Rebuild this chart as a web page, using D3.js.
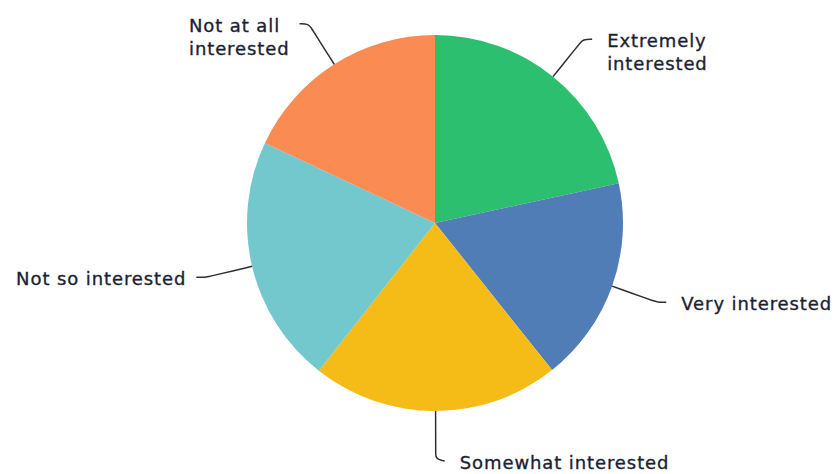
<!DOCTYPE html>
<html>
<head>
<meta charset="utf-8">
<script src="https://cdn.jsdelivr.net/npm/d3@7"></script>
<style>
  html, body { margin: 0; padding: 0; background: #ffffff; }
  svg { display: block; }
</style>
</head>
<body>
<svg id="chart" width="834" height="474"></svg>
<script>
// ---- data ----
const categories = ["Extremely interested", "Very interested", "Somewhat interested", "Not so interested", "Not at all interested"];
const labelLines = [["Extremely", "interested"], ["Very interested"], ["Somewhat interested"], ["Not so interested"], ["Not at all", "interested"]];
const values = [21.6, 17.7, 21.3, 21.4, 18.0];
const colors = ["#2bbf6f", "#517db6", "#f5bb17", "#72c8cc", "#f98b53"];

// ---- layout ----
const W = 834, H = 474;
const cx = 435, cy = 223, R = 188;
const leaderOut = 48, hookLen = 9, gapR = 15, gapL = 10;
const fontSize = 18, lineH = 23;

const svg = d3.select("#chart");
const g = svg.append("g").attr("transform", `translate(${cx},${cy})`);

const pie = d3.pie().sort(null).value(d => d)(values);
const arc = d3.arc().innerRadius(0).outerRadius(R);

g.selectAll("path.slice")
  .data(pie)
  .join("path")
  .attr("class", "slice")
  .attr("d", arc)
  .attr("fill", (d, i) => colors[i])
  .attr("stroke", "none");

const pt = (a, r) => [Math.sin(a) * r, -Math.cos(a) * r];
const line = d3.line().curve(d3.curveBasis);

pie.forEach((d, i) => {
  const a = (d.startAngle + d.endAngle) / 2;
  const p1 = pt(a, R);
  const p2 = pt(a, R + leaderOut);
  const right = Math.sin(a) > -0.02;
  const dir = right ? 1 : -1;
  const pm = pt(a, R + leaderOut - 6);
  const p3 = [p2[0] + dir * hookLen, p2[1] + (Math.abs(Math.cos(a)) > 0.9 ? 2 : 0)];
  const pts = [p1, pm, pm, p2, p3];
  g.append("path")
    .attr("d", line(pts))
    .attr("fill", "none")
    .attr("stroke", "#2f3030")
    .attr("stroke-width", 1.5);

  const t = g.append("text")
    .attr("font-family", "'DejaVu Sans', sans-serif")
    .attr("font-size", fontSize)
    .attr("letter-spacing", 0.9)
    .attr("fill", "#1c1f33")
    .attr("stroke", "#1c1f33")
    .attr("stroke-width", 0.35);
  labelLines[i].forEach((s, k) => {
    t.append("tspan").attr("x", 0).attr("y", k * lineH).text(s);
  });
  const bb = t.node().getBBox();
  const tx = right ? p3[0] + gapR : p3[0] - gapL - bb.width;
  const ty = p3[1] + 8;
  t.attr("transform", `translate(${tx},${ty})`);
});
</script>
</body>
</html>
